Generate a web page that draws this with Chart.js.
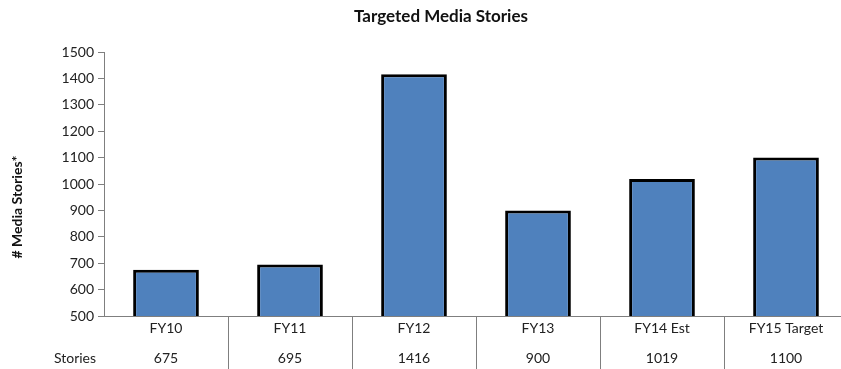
<!DOCTYPE html>
<html>
<head>
<meta charset="utf-8">
<script src="https://cdn.jsdelivr.net/npm/chart.js@4.4.1/dist/chart.umd.min.js"></script>
<style>
  html, body { margin: 0; padding: 0; background: #fff; overflow: hidden; }
  #wrap { width: 860px; height: 369px; }
</style>
</head>
<body>
<div id="wrap"><canvas id="storiesChart" width="860" height="369"></canvas></div>
<script>
// Targeted media stories per fiscal year
const fiscalYears = ['FY10', 'FY11', 'FY12', 'FY13', 'FY14 Est', 'FY15 Target'];
const storyCounts = [675, 695, 1416, 900, 1019, 1100];
const tableRowLabel = 'Stories';

const FONT = 'Lato, "Noto Sans", sans-serif';

// Draws the title, the rotated axis label and the data table under the x axis
const dataTablePlugin = {
    id: 'dataTable',
    afterDraw(chart) {
        const ctx = chart.ctx;
        const x = chart.scales.x;
        const area = chart.chartArea;
        ctx.save();

        ctx.fillStyle = '#111';
        ctx.font = 'bold 17px ' + FONT;
        ctx.textAlign = 'center';
        ctx.textBaseline = 'middle';
        ctx.fillText('Targeted Media Stories', 441, 17);

        ctx.save();
        ctx.translate(17, 207);
        ctx.rotate(-Math.PI / 2);
        ctx.font = 'bold 14px ' + FONT;
        ctx.fillText('# Media Stories*', 0, 0);
        ctx.restore();

        // column separators
        const step = x.getPixelForValue(1) - x.getPixelForValue(0);
        ctx.strokeStyle = '#7f7f7f';
        ctx.lineWidth = 1;
        for (let i = 1; i < fiscalYears.length; i++) {
            const px = Math.round(x.getPixelForValue(i) - step / 2) + 0.5;
            ctx.beginPath();
            ctx.moveTo(px, area.bottom);
            ctx.lineTo(px, chart.height);
            ctx.stroke();
        }

        // table rows
        ctx.font = '14px ' + FONT;
        ctx.fillStyle = '#222';
        fiscalYears.forEach((label, i) => {
            const px = x.getPixelForValue(i);
            ctx.fillText(label, px, area.bottom + 12);
            ctx.fillText(String(storyCounts[i]), px, area.bottom + 42);
        });
        ctx.fillText(tableRowLabel, 75, area.bottom + 42);
        ctx.restore();
    }
};

new Chart(document.getElementById('storiesChart').getContext('2d'), {
    type: 'bar',
    data: {
        labels: fiscalYears,
        datasets: [{
            label: tableRowLabel,
            data: storyCounts,
            backgroundColor: '#4f81bd',
            borderColor: '#000',
            borderWidth: 3,
            borderSkipped: false,
            categoryPercentage: 1,
            barPercentage: 0.53
        }]
    },
    options: {
        responsive: false,
        animation: false,
        layout: { padding: { top: 52, right: 12, left: 0, bottom: 0 } },
        plugins: {
            legend: { display: false },
            title: { display: false },
            tooltip: { enabled: false }
        },
        scales: {
            x: {
                grid: { display: false },
                border: { display: true, color: '#7f7f7f', width: 1 },
                ticks: { display: false },
                afterFit(scale) { scale.height = 53; }
            },
            y: {
                min: 500,
                max: 1500,
                ticks: {
                    stepSize: 100,
                    color: '#222',
                    font: { family: FONT, size: 14 },
                    padding: 4,
                    callback: (v) => String(v)
                },
                grid: {
                    drawOnChartArea: false,
                    drawTicks: true,
                    tickLength: 6,
                    color: '#7f7f7f'
                },
                border: { display: true, color: '#7f7f7f', width: 1 },
                afterFit(scale) { scale.width = 104; }
            }
        }
    },
    plugins: [dataTablePlugin]
});
</script>
</body>
</html>
